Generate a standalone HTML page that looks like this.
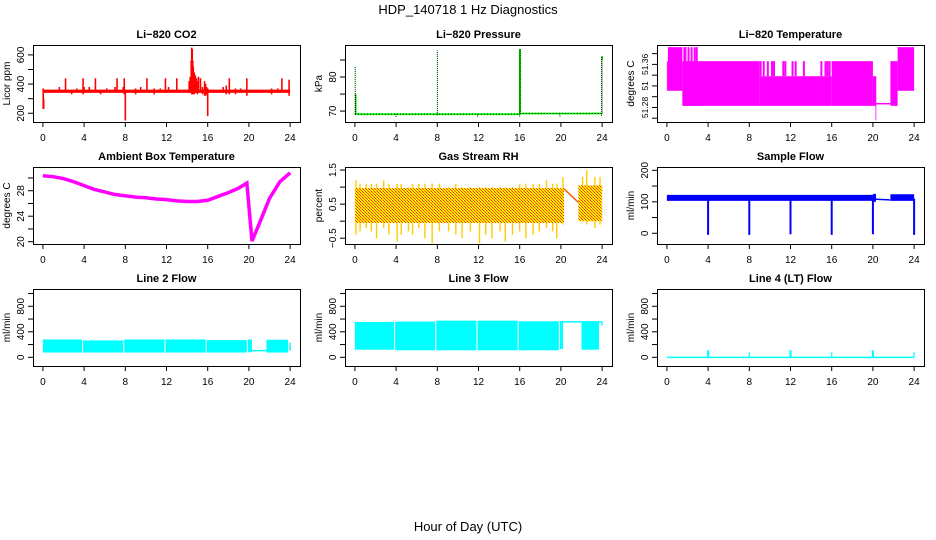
<!DOCTYPE html>
<html><head><meta charset="utf-8"><style>
html,body{margin:0;padding:0;background:#fff;}
svg{display:block;font-family:"Liberation Sans",sans-serif;}
</style></head><body>
<svg id="fig" width="936" height="540" viewBox="0 0 936 540" xmlns="http://www.w3.org/2000/svg">
<defs>
<pattern id="rhpat" width="3" height="3" patternUnits="userSpaceOnUse">
<rect width="3" height="3" fill="#ffee00"/><rect x="0" y="0" width="1" height="1" fill="#ff3000"/><rect x="1" y="1" width="1" height="1" fill="#ff6000"/><rect x="2" y="2" width="1" height="1" fill="#ff3000"/>
</pattern>
</defs>
<text x="468" y="14" text-anchor="middle" font-size="13">HDP_140718  1 Hz Diagnostics</text>
<text x="468" y="531" text-anchor="middle" font-size="13">Hour of Day (UTC)</text>
</svg>
<script>
// ---------- data ----------
const xTicks = [0,4,8,12,16,20,24];
// CO2
const co2BaseHours = [0,24];
const co2BaseLo = [340,340];
const co2BaseHi = [362,362];
const co2SpikeHours = [0.03,0.08,1.2,1.6,2.2,2.8,3.3,3.9,4.0,4.5,5.1,5.6,6.2,7.0,7.2,7.8,7.9,8.0,9.0,9.5,10.1,10.8,11.4,11.9,12.2,13.0,14.2,14.3,14.4,14.45,14.5,14.55,14.6,14.7,14.8,14.9,15.0,15.1,15.3,15.5,15.7,15.8,15.9,16.0,17.5,17.8,18.1,18.7,19.2,19.8,22.2,22.8,23.2,23.9];
const co2SpikeLo = [230,230,345,345,345,330,345,330,340,345,345,330,345,345,345,340,330,150,330,345,345,330,345,340,345,345,345,340,340,330,330,330,340,330,340,340,330,340,340,330,320,320,330,180,340,330,330,330,340,320,330,340,345,320];
const co2SpikeHi = [370,300,360,380,440,360,370,440,380,380,440,360,370,380,440,380,440,360,370,380,440,370,370,440,380,440,420,450,560,650,640,560,520,480,460,440,420,450,440,380,420,400,380,370,380,390,440,370,370,440,370,370,440,430];
// Pressure
const presLineHours = [0,0.05,15.95,16.05,24];
const presLineVals = [69.1,69.1,69.1,69.3,69.3];
const presSpikeHours = [0.03,0.08,8.0,16.0,16.05,23.95,24.0,4.0,11.9,16.1,19.9];
const presSpikeLo = [69.1,69.1,68.8,68.4,69.1,68.6,69.3,68.3,68.4,69.3,68.4];
const presSpikeHi = [83.2,75.0,87.8,88.2,88.2,86.1,86.0,69.1,69.1,69.3,69.3];
const presGreenSpikeHours = [0.08,16.0,16.05,24.0];
const presGreenSpikeLo = [69.1,69.1,69.1,85.0];
const presGreenSpikeHi = [75.0,88.2,88.2,86.1];
// Li-820 temperature
const tempBandStart = [0.0,0.1,1.5,9.0,16.0,20.0,20.25,21.7,22.4];
const tempBandEnd   = [0.1,1.5,9.0,16.0,20.0,20.25,20.3,22.4,24.0];
const tempBandLo    = [51.311,51.311,51.283,51.283,51.283,51.283,51.256,51.283,51.311];
const tempBandHi    = [51.366,51.392,51.366,51.338,51.366,51.338,51.338,51.366,51.392];
const tempStripeHours = [1.7,1.8,2.1,2.4,2.7,2.9,9.1,9.4,9.8,10.2,10.4,11.3,11.5,12.2,12.5,13.3,15.0,15.4,15.6,15.8];
const tempStripeLo = [51.283,51.283,51.283,51.283,51.283,51.283,51.338,51.338,51.338,51.338,51.338,51.338,51.338,51.338,51.338,51.338,51.338,51.338,51.338,51.338];
const tempStripeHi = [51.392,51.392,51.392,51.392,51.392,51.392,51.366,51.366,51.366,51.366,51.366,51.366,51.366,51.366,51.366,51.366,51.366,51.366,51.366,51.366];
const tempFlatHours = [20.3,21.7];
const tempFlatVals = [51.287,51.287];
// Ambient box temperature
const ambHours = [0,1,2,3,4,5,6,7,8,9,10,11,12,13,14,15,16,17,18,19,19.8,20.3,21,22,23,24];
const ambVals  = [30.35,30.2,29.9,29.4,28.8,28.2,27.8,27.4,27.2,27.0,26.9,26.7,26.6,26.4,26.3,26.3,26.5,27.1,27.7,28.4,29.2,20.1,22.8,26.8,29.4,30.8];
// Gas stream RH
const rhBandStart = [0,21.7];
const rhBandEnd = [20.3,24];
const rhBandLo = [-0.05,0.0];
const rhBandHi = [0.97,1.05];
const rhGapHours = [20.3,21.7];
const rhGapVals = [0.95,0.55];
const rhSpikeHours = [0.1,0.5,1.1,1.6,2.1,2.8,3.3,4.1,4.5,5.2,5.6,6.2,6.8,7.5,8.2,9.1,9.8,10.4,11.2,12.1,12.7,13.3,14.1,14.6,15.3,16.0,16.6,17.3,17.9,18.6,19.2,19.6,20.2,22.1,22.5,23.3,23.8];
const rhSpikeLo = [-0.4,-0.3,-0.2,-0.3,-0.5,-0.2,-0.4,-0.6,-0.4,-0.3,-0.4,-0.2,-0.5,-0.65,-0.3,-0.3,-0.4,-0.5,-0.3,-0.65,-0.4,-0.5,-0.3,-0.6,-0.4,-0.3,-0.5,-0.4,-0.3,-0.2,-0.3,-0.5,-0.1,0.0,-0.1,-0.2,-0.1];
const rhSpikeHi = [1.2,1.1,1.1,1.1,1.1,1.2,1.1,1.1,1.1,1.0,1.1,1.1,1.1,1.1,1.1,1.0,1.1,1.0,1.0,1.0,1.0,1.0,1.0,1.0,1.0,1.1,1.1,1.1,1.1,1.2,1.1,1.1,1.3,1.3,1.5,1.3,1.3];
// Sample flow
const sfBandStart = [0,20.0,21.7];
const sfBandEnd = [20.0,20.3,24];
const sfBandLo = [103,100,103];
const sfBandHi = [122,125,124];
const sfLineHours = [20.3,21.7];
const sfLineVals = [108,106];
const sfDipHours = [4.0,8.0,12.0,16.0,20.0,24.0];
const sfDipLo = [-5,-5,-3,-5,-3,-5];
// Line 2 flow
const l2BandStart = [0,3.9,7.9,11.9,15.9,19.9,21.7];
const l2BandEnd = [3.8,7.8,11.8,15.8,19.8,20.3,23.8];
const l2BandLo = [75,75,75,75,75,80,75];
const l2BandHi = [280,265,280,280,270,280,275];
const l2LineHours = [20.3,21.7];
const l2LineVals = [105,105];
// Line 3 flow
const l3BandStart = [0,3.9,7.9,11.9,15.9,19.9,22.0];
const l3BandEnd = [3.8,7.8,11.8,15.8,19.8,20.2,23.7];
const l3BandLo = [120,110,110,110,110,130,120];
const l3BandHi = [555,560,575,575,565,570,550];
const l3LineHours = [20.2,24.0];
const l3LineVals = [555,555];
// Line 4 flow
const l4LineHours = [0,24];
const l4LineVals = [0,0];
const l4SpikeHours = [4.0,8.0,12.0,16.0,19.6,20.0,24.0];
const l4SpikeVals = [110,80,110,80,-20,110,80];

// ---------- drawing ----------
const NS = "http://www.w3.org/2000/svg";
const svg = document.getElementById('fig');
const colLeft = [33,345,657];
const rowTop = [45,167,289];
const PW = 267, PH = 77;
const XLIM = [-0.96,24.96];

function mk(tag, parent){ const e=document.createElementNS(NS,tag); parent.appendChild(e); return e; }

function makePanel(col,row,ylim,name){
  const g = mk('g',svg);
  
  
  const L=colLeft[col], T=rowTop[row];
  const sx = v => L + (v - XLIM[0])/(XLIM[1]-XLIM[0])*PW;
  const sy = v => T + PH - (v - ylim[0])/(ylim[1]-ylim[0])*PH;
  return {g,L,T,sx,sy};
}
function vseg(p,h,lo,hi,color,w,dash){
  const l=mk('line',p.g);
  
  
  l.setAttribute('x1',p.sx(h)); l.setAttribute('x2',p.sx(h));
  l.setAttribute('y1',p.sy(lo)); l.setAttribute('y2',p.sy(hi));
  l.setAttribute('stroke',color); l.setAttribute('stroke-width',w||1.5);
  if(dash) l.setAttribute('stroke-dasharray',dash);
}
function band(p,x0,x1,lo,hi,fill){
  const r=mk('rect',p.g);
  
  
  r.setAttribute('x',p.sx(x0)); r.setAttribute('width',Math.max(0.8,p.sx(x1)-p.sx(x0)));
  r.setAttribute('y',p.sy(hi)); r.setAttribute('height',Math.max(0.8,p.sy(lo)-p.sy(hi)));
  r.setAttribute('fill',fill);
}
function line(p,xs,ys,color,w,dash){
  const pl=mk('polyline',p.g);
  
  
  pl.setAttribute('points',xs.map((x,i)=>p.sx(x)+','+p.sy(ys[i])).join(' '));
  pl.setAttribute('fill','none'); pl.setAttribute('stroke',color); pl.setAttribute('stroke-width',w);
  if(dash) pl.setAttribute('stroke-dasharray',dash);
}
function axes(p,title,ylab,yTicks,yLabels,showX,yfs){
  const b=mk('rect',p.g);
  
  
  b.setAttribute('x',p.L+0.5); b.setAttribute('y',p.T+0.5); b.setAttribute('width',PW); b.setAttribute('height',PH);
  b.setAttribute('fill','none'); b.setAttribute('stroke','#000'); b.setAttribute('stroke-width',1);
  const t=mk('text',p.g);
  
  
  t.setAttribute('x',p.L+PW/2); t.setAttribute('y',p.T-7); t.setAttribute('text-anchor','middle');
  t.setAttribute('font-size','11'); t.setAttribute('font-weight','bold'); t.textContent=title;
  const yl=mk('text',p.g);
  
  
  const yc=p.T+PH/2, xc=p.L-23;
  yl.setAttribute('x',xc); yl.setAttribute('y',yc); yl.setAttribute('text-anchor','middle');
  yl.setAttribute('transform','rotate(-90 '+xc+' '+yc+')'); yl.setAttribute('font-size','10'); yl.textContent=ylab;
  yTicks.forEach(v=>{
    const l=mk('line',p.g);
    
    
    l.setAttribute('x1',p.L); l.setAttribute('x2',p.L-5); l.setAttribute('y1',p.sy(v)); l.setAttribute('y2',p.sy(v));
    l.setAttribute('stroke','#000');
  });
  yLabels.forEach(([v,s])=>{
    const tx=mk('text',p.g);
    
    
    const x=p.L-9, y=p.sy(v);
    tx.setAttribute('x',x); tx.setAttribute('y',y); tx.setAttribute('text-anchor','middle');
    tx.setAttribute('transform','rotate(-90 '+x+' '+y+')'); tx.setAttribute('font-size',yfs||'10'); tx.textContent=s;
  });
  xTicks.forEach(v=>{
    const l=mk('line',p.g);
    
    
    l.setAttribute('x1',p.sx(v)); l.setAttribute('x2',p.sx(v)); l.setAttribute('y1',p.T+PH); l.setAttribute('y2',p.T+PH+5);
    l.setAttribute('stroke','#000');
    if(showX){
      const tx=mk('text',p.g);
      
      
      tx.setAttribute('x',p.sx(v)); tx.setAttribute('y',p.T+PH+19); tx.setAttribute('text-anchor','middle');
      tx.setAttribute('font-size','10'); tx.textContent=v;
    }
  });
}

// Panel 1: CO2
let p=makePanel(0,0,[140,668],'co2-panel');
co2BaseHours.slice(1).forEach((h,i)=>band(p,co2BaseHours[i],h,co2BaseLo[i],co2BaseHi[i],'#ff0000'));
co2SpikeHours.forEach((h,i)=>vseg(p,h,co2SpikeLo[i],co2SpikeHi[i],'#ff0000',1.6));
axes(p,'Li\u2212820 CO2','Licor ppm',[200,300,400,500,600],[[200,'200'],[400,'400'],[600,'600']],true);

// Panel 2: Pressure
p=makePanel(1,0,[66.8,89.4],'pressure-panel');
line(p,presLineHours,presLineVals,'#00ff00',1.8);
presGreenSpikeHours.forEach((h,i)=>vseg(p,h,presGreenSpikeLo[i],presGreenSpikeHi[i],'#00ff00',1.6));
presSpikeHours.forEach((h,i)=>vseg(p,h,presSpikeLo[i],presSpikeHi[i],'#00ff00',1,'1,1'));
line(p,presLineHours,presLineVals,'#000',1,'1,2');
presSpikeHours.forEach((h,i)=>vseg(p,h,presSpikeLo[i],presSpikeHi[i],'#000',0.8,'1,1'));
axes(p,'Li\u2212820 Pressure','kPa',[70,75,80,85],[[70,'70'],[80,'80']],true);

// Panel 3: Temperature
p=makePanel(2,0,[51.253,51.396],'li820-temperature-panel');
tempBandStart.forEach((s,i)=>band(p,s,tempBandEnd[i],tempBandLo[i],tempBandHi[i],'#ff00ff'));
tempStripeHours.forEach((h,i)=>vseg(p,h,tempStripeLo[i],tempStripeHi[i],'#ff00ff',2));
line(p,tempFlatHours,tempFlatVals,'#ff00ff',1.5);
axes(p,'Li\u2212820 Temperature','degrees C',[51.26,51.28,51.30,51.32,51.34,51.36,51.38],[[51.28,'51.28'],[51.32,'51'],[51.36,'51.36']],true,'8.5');

// Panel 4: Ambient box temperature
p=makePanel(0,1,[19.64,31.72],'ambient-temperature-panel');
line(p,ambHours,ambVals,'#ff00ff',3.5);
axes(p,'Ambient Box Temperature','degrees C',[20,22,24,26,28,30],[[20,'20'],[24,'24'],[28,'28']],true);

// Panel 5: Gas stream RH
p=makePanel(1,1,[-0.67,1.59],'gas-rh-panel');
rhSpikeHours.forEach((h,i)=>vseg(p,h,rhSpikeLo[i],rhSpikeHi[i],'#ffcc00',1.4));
rhBandStart.forEach((s,i)=>band(p,s,rhBandEnd[i],rhBandLo[i],rhBandHi[i],'url(#rhpat)'));
line(p,rhGapHours,rhGapVals,'#ff6000',1.5);
axes(p,'Gas Stream RH','percent',[-0.5,0,0.5,1,1.5],[[-0.5,'\u22120.5'],[0.5,'0.5'],[1.5,'1.5']],true);

// Panel 6: Sample flow
p=makePanel(2,1,[-34,210.5],'sample-flow-panel');
sfBandStart.forEach((s,i)=>band(p,s,sfBandEnd[i],sfBandLo[i],sfBandHi[i],'#0000ff'));
line(p,sfLineHours,sfLineVals,'#0000ff',1.5);
sfDipHours.forEach((h,i)=>vseg(p,h,sfDipLo[i],110,'#0000ff',2));
axes(p,'Sample Flow','ml/min',[0,50,100,150,200],[[0,'0'],[100,'100'],[200,'200']],true);

// Panel 7: Line 2 flow
const flowTicks=[0,200,400,600,800,1000];
const flowLabels=[[0,'0'],[400,'400'],[800,'800']];
p=makePanel(0,2,[-136,1071],'line2-flow-panel');
l2BandStart.forEach((s,i)=>band(p,s,l2BandEnd[i],l2BandLo[i],l2BandHi[i],'#00ffff'));
line(p,l2LineHours,l2LineVals,'#00ffff',1.5);
vseg(p,24,105,230,'#00ffff',1.5);
axes(p,'Line 2 Flow','ml/min',flowTicks,flowLabels,true);

// Panel 8: Line 3 flow
p=makePanel(1,2,[-136,1071],'line3-flow-panel');
l3BandStart.forEach((s,i)=>band(p,s,l3BandEnd[i],l3BandLo[i],l3BandHi[i],'#00ffff'));
line(p,l3LineHours,l3LineVals,'#00ffff',1.5);
vseg(p,24,500,555,'#00ffff',1.5);
axes(p,'Line 3 Flow','ml/min',flowTicks,flowLabels,true);

// Panel 9: Line 4 flow
p=makePanel(2,2,[-136,1071],'line4-flow-panel');
line(p,l4LineHours,l4LineVals,'#00ffff',1.5);
l4SpikeHours.forEach((h,i)=>vseg(p,h,0,l4SpikeVals[i],'#00ffff',l4SpikeVals[i]>=100?2.2:1.2));
axes(p,'Line 4 (LT) Flow','ml/min',flowTicks,flowLabels,true);
</script>
</body></html>
